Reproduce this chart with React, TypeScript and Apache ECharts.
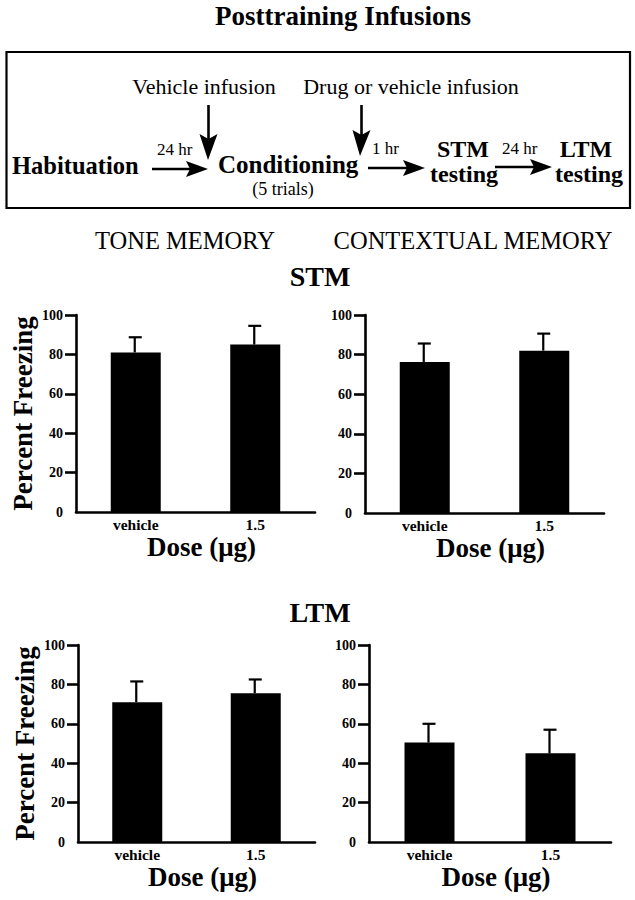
import React, { useEffect, useRef } from "react";
import * as echarts from "echarts";

const categories = ["vehicle", "1.5"];
const stmToneMean = [81, 85];
const stmToneTop = [88.7, 94.5];
const stmContextMean = [76.3, 82];
const stmContextTop = [85.6, 90.6];
const ltmToneMean = [71, 75.5];
const ltmToneTop = [81.5, 82.5];
const ltmContextMean = [50.5, 45];
const ltmContextTop = [60, 57];
const yTicks = [0, 20, 40, 60, 80, 100];

const SERIF = "'Liberation Serif', 'Times New Roman', serif";

export default function App() {
  const ref = useRef<HTMLDivElement>(null);
  useEffect(() => {
    if (!ref.current) return;
    const chart = echarts.init(ref.current, undefined, { renderer: "svg" });

    const grids = [
      { left: 76, top: 315, width: 239, height: 197 },
      { left: 365, top: 315, width: 239, height: 198 },
      { left: 78, top: 645, width: 237, height: 197 },
      { left: 369, top: 645, width: 242, height: 197 },
    ];
    const panels = [
      { mean: stmToneMean, top: stmToneTop, yName: "Percent Freezing" },
      { mean: stmContextMean, top: stmContextTop, yName: "" },
      { mean: ltmToneMean, top: ltmToneTop, yName: "Percent Freezing" },
      { mean: ltmContextMean, top: ltmContextTop, yName: "" },
    ];

    const axisLine = { show: true, lineStyle: { color: "#000", width: 2.6 } };

    const xAxis = grids.map((_, i) => ({
      type: "category",
      gridIndex: i,
      data: categories,
      axisLine,
      axisTick: { show: false },
      axisLabel: {
        color: "#000",
        fontFamily: SERIF,
        fontWeight: "bold",
        fontSize: 15.5,
        margin: 4,
      },
      name: "Dose (\u03bcg)",
      nameLocation: "middle",
      nameGap: 21,
      nameTextStyle: {
        color: "#000",
        fontFamily: SERIF,
        fontWeight: "bold",
        fontSize: 27,
        padding: [0, 0, 0, 12],
      },
    }));

    const yAxis = grids.map((_, i) => ({
      type: "value",
      gridIndex: i,
      min: 0,
      max: 100,
      interval: 20,
      splitLine: { show: false },
      axisLine,
      axisTick: {
        show: true,
        length: 11,
        lineStyle: { color: "#000", width: 2.6 },
        customValues: yTicks.slice(1),
      },
      axisLabel: {
        color: "#000",
        fontFamily: SERIF,
        fontWeight: "bold",
        fontSize: 14,
        margin: 13,
        customValues: yTicks,
      },
      name: panels[i].yName,
      nameLocation: "middle",
      nameRotate: 90,
      nameGap: 40,
      nameTextStyle: {
        color: "#000",
        fontFamily: SERIF,
        fontWeight: "bold",
        fontSize: 27,
      },
    }));

    const series: any[] = [];
    panels.forEach((p, i) => {
      series.push({
        type: "bar",
        xAxisIndex: i,
        yAxisIndex: i,
        barWidth: 50,
        data: p.mean,
        itemStyle: { color: "#000" },
        z: 2,
      });
      series.push({
        type: "custom",
        xAxisIndex: i,
        yAxisIndex: i,
        z: 3,
        data: p.mean.map((m, k) => [k, m, p.top[k]]),
        encode: { x: 0, y: [1, 2] },
        renderItem: (params: any, api: any) => {
          const x = api.value(0);
          const a = api.coord([x, api.value(1)]);
          const b = api.coord([x, api.value(2)]);
          const st = { stroke: "#000", lineWidth: 2.2 };
          return {
            type: "group",
            children: [
              { type: "line", shape: { x1: a[0] - 1, y1: a[1], x2: b[0] - 1, y2: b[1] }, style: st },
              { type: "line", shape: { x1: b[0] - 7, y1: b[1], x2: b[0] + 6, y2: b[1] }, style: st },
            ],
          };
        },
      });
    });

    const txt = (
      text: string,
      x: number,
      y: number,
      size: number,
      bold: boolean,
      align: string = "center"
    ) => ({
      type: "text",
      x,
      y,
      silent: true,
      style: {
        text,
        fill: "#000",
        font: `${bold ? "bold " : ""}${size}px ${SERIF}`,
        textAlign: align,
        textVerticalAlign: "middle",
      },
    });
    const stroke = { stroke: "#000", lineWidth: 2.6 };
    const line = (x1: number, y1: number, x2: number, y2: number) => ({
      type: "line",
      silent: true,
      shape: { x1, y1, x2, y2 },
      style: stroke,
    });
    const poly = (points: number[][]) => ({
      type: "polygon",
      silent: true,
      shape: { points },
      style: { fill: "#000" },
    });
    const hArrow = (x1: number, x2: number, y: number) => [
      line(x1, y, x2 - 14, y),
      poly([
        [x2 - 22, y - 8],
        [x2, y],
        [x2 - 22, y + 8],
        [x2 - 18, y],
      ]),
    ];
    const vArrow = (x: number, y1: number, y2: number, tipX: number) => [
      line(x, y1, x, y2 - 16),
      poly([
        [x - 9, y2 - 26],
        [tipX, y2],
        [x + 9, y2 - 26],
        [x, y2 - 21],
      ]),
    ];

    const graphic: any[] = [
      txt("Posttraining Infusions", 343, 16, 27, true),
      {
        type: "rect",
        silent: true,
        shape: { x: 6.5, y: 52, width: 623.5, height: 156 },
        style: { fill: "none", stroke: "#000", lineWidth: 2.2 },
      },
      txt("Vehicle infusion", 204, 86, 22, false),
      txt("Drug or vehicle infusion", 411, 86, 22, false),
      ...vArrow(208.5, 105, 160, 208),
      ...vArrow(361.5, 105, 156, 360),
      txt("Habituation", 12, 165, 24.5, true, "left"),
      txt("24 hr", 157, 149, 17, false, "left"),
      ...hArrow(152, 208, 169),
      txt("Conditioning", 218, 164, 25, true, "left"),
      txt("(5 trials)", 283, 189, 18, false),
      txt("1 hr", 372, 148, 17, false, "left"),
      ...hArrow(368, 425, 168),
      txt("STM", 463, 149, 24, true),
      txt("testing", 464, 174, 24, true),
      txt("24 hr", 502, 148, 17, false, "left"),
      ...hArrow(495, 552, 167),
      txt("LTM", 586, 149, 24, true),
      txt("testing", 589, 174, 24, true),
      txt("TONE MEMORY", 185, 240, 24.5, false),
      txt("CONTEXTUAL MEMORY", 473, 240, 24.5, false),
      txt("STM", 320, 276, 28, true),
      txt("LTM", 320, 612, 28, true),
    ];

    chart.setOption({
      animation: false,
      backgroundColor: "#fff",
      grid: grids,
      xAxis,
      yAxis,
      series,
      graphic,
    } as any);

    return () => chart.dispose();
  }, []);

  return (
    <div
      ref={ref}
      style={{ position: "absolute", left: 0, top: 0, width: 635, height: 900 }}
    />
  );
}
